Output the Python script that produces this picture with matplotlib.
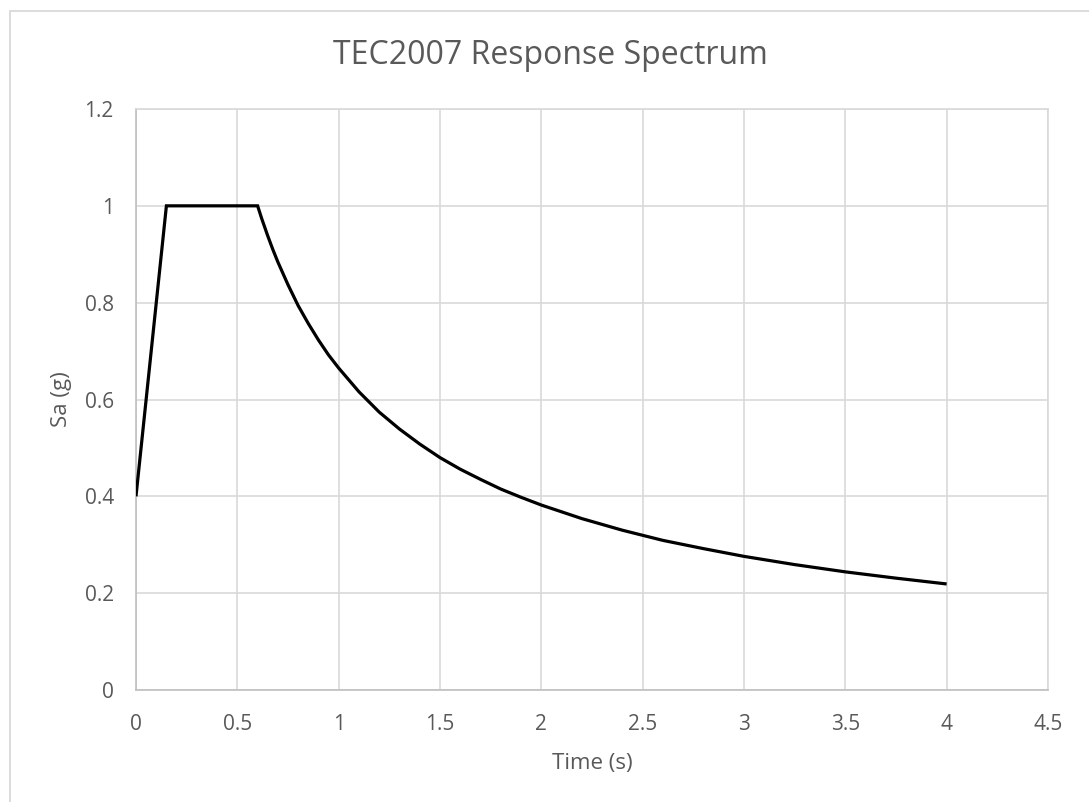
import matplotlib.pyplot as plt
from matplotlib.patches import Rectangle

# TEC2007 design spectrum (period in s, spectral acceleration in g)
period = [0.0, 0.15, 0.6, 0.62, 0.65, 0.675, 0.7, 0.75, 0.8, 0.85, 0.9, 0.95, 1.0,
          1.1, 1.2, 1.3, 1.4, 1.5, 1.6, 1.7, 1.8, 1.9, 2.0, 2.2, 2.4, 2.6, 2.8,
          3.0, 3.25, 3.5, 3.75, 4.0]
sa = [0.40, 1.00, 1.00, 0.974, 0.938, 0.910, 0.884, 0.837, 0.794, 0.757, 0.723,
      0.692, 0.665, 0.616, 0.574, 0.539, 0.508, 0.480, 0.456, 0.435, 0.415,
      0.398, 0.382, 0.354, 0.330, 0.309, 0.292, 0.276, 0.259, 0.244, 0.231,
      0.219]

x_ticks = [0, 0.5, 1, 1.5, 2, 2.5, 3, 3.5, 4, 4.5]
x_labels = ["0", "0.5", "1", "1.5", "2", "2.5", "3", "3.5", "4", "4.5"]
y_ticks = [0, 0.2, 0.4, 0.6, 0.8, 1.0, 1.2]
y_labels = ["0", "0.2", "0.4", "0.6", "0.8", "1", "1.2"]

txt = "#595959"
plt.rcParams['font.family'] = ['Open Sans', 'DejaVu Sans']

fig = plt.figure(figsize=(10.89, 8.02), dpi=100)
fig.patches.append(Rectangle((9.5 / 1089, -0.1), 1.2, (802 - 10.5) / 802 + 0.1,
                             transform=fig.transFigure, fill=False,
                             edgecolor="#d9d9d9", lw=1.3))

ax = fig.add_axes([136 / 1089, 112 / 802, 912 / 1089, 581 / 802])
ax.plot(period, sa, color="black", lw=2.3, solid_joinstyle="miter",
        solid_capstyle="butt", zorder=3)

ax.set_xlim(0, 4.5)
ax.set_ylim(0, 1.2)
ax.set_xticks(x_ticks)
ax.set_xticklabels(x_labels)
ax.set_yticks(y_ticks)
ax.set_yticklabels(y_labels)
ax.tick_params(length=0, labelsize=15, labelcolor=txt)
ax.tick_params(axis="x", pad=17)
ax.tick_params(axis="y", pad=16)
ax.grid(True, color="#d9d9d9", lw=1.2)
ax.set_axisbelow(True)
for side in ["top", "right"]:
    ax.spines[side].set_color("#d9d9d9")
    ax.spines[side].set_linewidth(1.2)
for side in ["left", "bottom"]:
    ax.spines[side].set_color("#bfbfbf")
    ax.spines[side].set_linewidth(1.2)

ax.set_xlabel("Time (s)", fontsize=16, color=txt, labelpad=13)
ax.set_ylabel("Sa (g)", fontsize=16, color=txt, labelpad=9)
fig.text(550 / 1089, 1 - 55 / 802, "TEC2007 Response Spectrum", fontsize=23,
         color=txt, ha="center", va="center")

plt.savefig("out.png", dpi=100)
